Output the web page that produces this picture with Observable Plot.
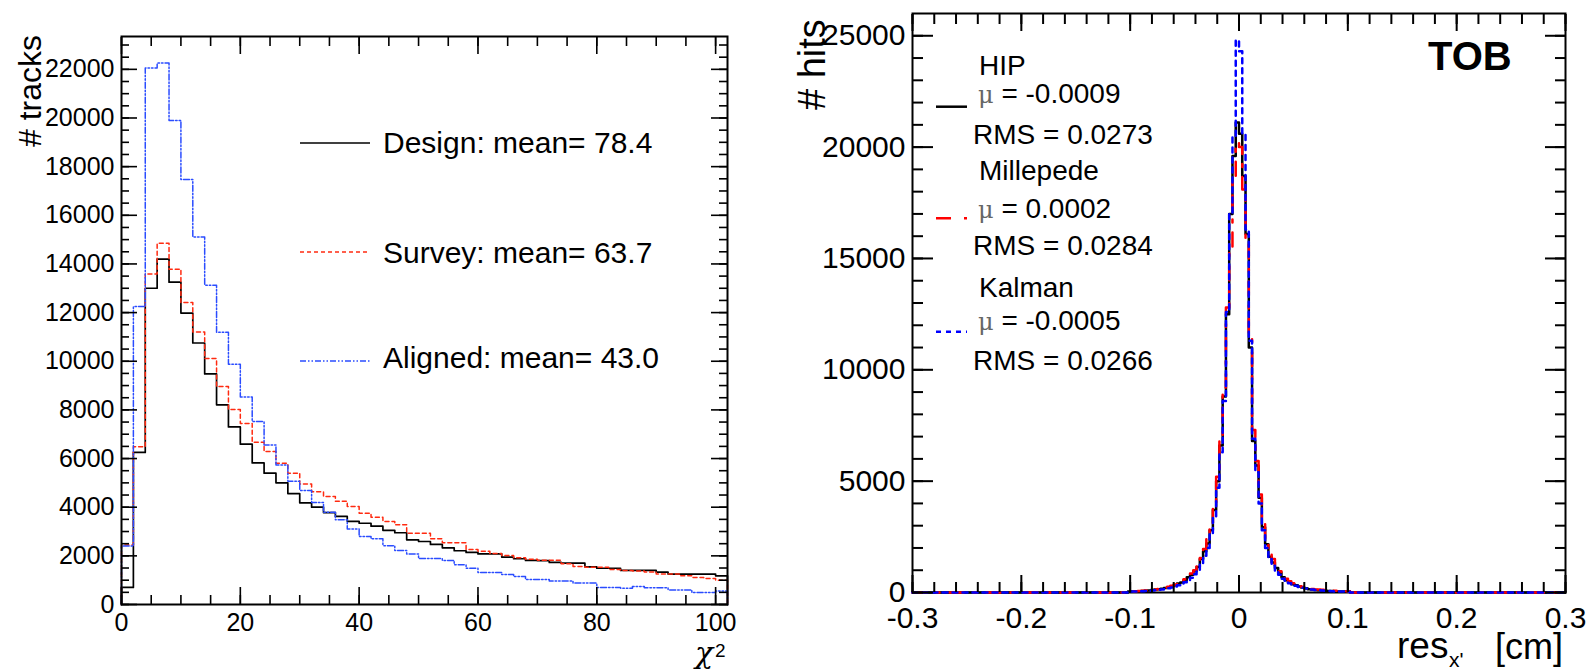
<!DOCTYPE html>
<html><head><meta charset="utf-8">
<script src="https://cdn.jsdelivr.net/npm/d3@7"></script>
<script src="https://cdn.jsdelivr.net/npm/@observablehq/plot@0.6"></script>
<style>
html,body{margin:0;padding:0;background:#fff;}
#root{position:relative;width:1594px;height:672px;overflow:hidden;font-family:"Liberation Sans",Arial,sans-serif;color:#000;background:#fff;}
#root svg{position:absolute;top:0;}
</style></head><body><div id="root"></div>
<script>
// ---------------- Left panel: chi2 distributions ----------------
const chi2Start = 0, chi2Width = 2, chi2Domain = [0, 102];
const designCounts  = [700,6250,13000,14200,13250,11980,10750,9480,8210,7300,6590,5820,5400,5000,4560,4180,4000,3780,3620,3420,3340,3220,3050,2950,2660,2590,2470,2330,2210,2140,2080,2080,1950,1880,1810,1800,1730,1700,1700,1550,1490,1490,1400,1400,1400,1330,1250,1250,1250,1250,1180];
const surveyCounts  = [2450,6490,13590,14850,13780,12410,11200,10110,8960,8015,7440,6670,6290,5810,5400,4950,4630,4440,4245,4030,3750,3590,3410,3275,2930,2930,2700,2540,2540,2260,2190,2100,2010,1920,1860,1820,1820,1680,1560,1530,1530,1440,1400,1380,1340,1250,1250,1180,1110,1070,1000];
const alignedCounts = [2400,12250,22055,22260,19900,17470,15110,13125,11190,9880,8535,7520,6560,5730,5070,4690,4190,3790,3480,3100,2795,2700,2420,2220,2080,1890,1890,1810,1630,1490,1320,1320,1230,1150,1030,1030,970,970,880,880,700,700,670,740,690,690,600,600,490,490,550];
const chi2Legend = ["Design: mean= 78.4", "Survey: mean= 63.7", "Aligned: mean= 43.0"];
const chi2YMax = 23350;
const chi2YTicks = [0,2000,4000,6000,8000,10000,12000,14000,16000,18000,20000,22000];
const chi2XTicks = [0,20,40,60,80,100];

// ---------------- Right panel: TOB residuals ----------------
const resStart = -0.102, resWidth = 0.003, resDomain = [-0.3, 0.3];
const hipCounts = [40,50,50,60,70,80,90,110,130,150,170,200,240,280,330,400,450,550,680,800,950,1150,1500,1850,2200,2800,3700,5000,6600,8800,12500,17000,19600,21100,
  20600,18700,16100,11000,6800,5700,4250,2930,2170,1600,1350,1100,900,680,550,450,370,320,270,230,190,150,130,110,100,90,80,70,70,60,50,50,40,30];
const milleCounts = [50,50,60,70,80,90,100,120,140,160,190,220,260,300,360,420,500,600,700,850,1000,1250,1550,1950,2400,3000,3900,5200,6900,9200,12800,15500,18500,20200,
  20000,18100,15800,11500,7300,5900,4400,3100,2300,2000,1500,1200,950,750,620,500,420,360,300,260,220,190,160,140,130,120,110,100,90,80,80,70,60,60];
const kalmanCounts = [40,40,50,50,60,70,80,90,100,120,140,160,190,230,270,320,380,460,550,660,820,1000,1300,1650,2000,2600,3400,4700,6300,8600,12600,17000,20500,24800,
  24300,20600,16300,11300,6900,5400,4000,2800,2000,1500,1200,980,800,620,500,420,350,300,250,210,180,150,130,110,100,90,80,70,60,50,50,40,40,30];
const resLegend = [["HIP","\u03bc = -0.0009","RMS = 0.0273"],["Millepede","\u03bc = 0.0002","RMS = 0.0284"],["Kalman","\u03bc = -0.0005","RMS = 0.0266"]];
const resYMax = 26000;
const resYTicks = [0,5000,10000,15000,20000,25000];
const resXTicks = [-0.3,-0.2,-0.1,0,0.1,0.2,0.3];

// step outline of a histogram (vertices at bin edges), baseline outside
function stepPoints(start, width, counts, lo, hi) {
  const pts = [{x: lo, y: 0}, {x: start, y: 0}];
  counts.forEach((c, i) => {
    pts.push({x: start + i * width, y: c});
    pts.push({x: start + (i + 1) * width, y: c});
  });
  const end = start + counts.length * width;
  pts.push({x: end, y: 0}, {x: hi, y: 0});
  return pts;
}

const root = document.getElementById("root");
const FONT = "Liberation Sans, Arial, sans-serif";

// ---- left plot ----
const lYMinor = d3.range(0, 23001, 500);
const lXMinor = d3.range(0, 101, 5);
const left = Plot.plot({
  width: 760, height: 672,
  marginLeft: 121, marginRight: 33, marginTop: 36, marginBottom: 68,
  x: {domain: chi2Domain, label: null},
  y: {domain: [0, chi2YMax], label: null},
  style: {fontFamily: FONT, fontSize: "25px", background: "transparent", overflow: "visible", color: "#000"},
  marks: [
    Plot.line(stepPoints(chi2Start, chi2Width, designCounts, chi2Domain[0], chi2Domain[1]), {x: "x", y: "y", stroke: "#000", strokeWidth: 1.7}),
    Plot.line(stepPoints(chi2Start, chi2Width, surveyCounts, chi2Domain[0], chi2Domain[1]), {x: "x", y: "y", stroke: "#ff2a10", strokeWidth: 1.5, strokeDasharray: "4,3"}),
    Plot.line(stepPoints(chi2Start, chi2Width, alignedCounts, chi2Domain[0], chi2Domain[1]), {x: "x", y: "y", stroke: "#2a4cff", strokeWidth: 1.5, strokeDasharray: "6,2,1.5,2,1.5,2"}),
    Plot.frame({stroke: "#000", strokeWidth: 2}),
    Plot.axisY(chi2YTicks, {anchor: "left", tickSize: -16, fill: "none", label: null, strokeWidth: 1.6}),
    Plot.axisY(lYMinor, {anchor: "left", tickSize: -8, fill: "none", label: null, strokeWidth: 1.6}),
    Plot.axisY(chi2YTicks, {anchor: "right", tickSize: -17, fill: "none", label: null, strokeWidth: 1.6}),
    Plot.axisY(lYMinor, {anchor: "right", tickSize: -9, fill: "none", label: null, strokeWidth: 1.6}),
    Plot.axisX(chi2XTicks, {anchor: "bottom", tickSize: -17, fill: "none", label: null, strokeWidth: 1.6}),
    Plot.axisX(lXMinor, {anchor: "bottom", tickSize: -9, fill: "none", label: null, strokeWidth: 1.6}),
    Plot.axisX(chi2XTicks, {anchor: "top", tickSize: -17, fill: "none", label: null, strokeWidth: 1.6}),
    Plot.axisX(lXMinor, {anchor: "top", tickSize: -9, fill: "none", label: null, strokeWidth: 1.6}),
    Plot.axisY(chi2YTicks, {anchor: "left", tickSize: 0, tickPadding: 7, fontSize: 25, label: null, tickFormat: d => String(d)}),
    Plot.axisX(chi2XTicks, {anchor: "bottom", tickSize: 0, tickPadding: 9, fontSize: 25, label: null, tickFormat: d => String(d)})
  ]
});
left.style.left = "0px";
root.appendChild(left);

// ---- right plot ----
const rYMinor = d3.range(0, 25001, 1000);
const rXMinor = d3.range(-15, 16).map(i => i * 0.02);
const right = Plot.plot({
  width: 834, height: 672,
  marginLeft: 152, marginRight: 29, marginTop: 13, marginBottom: 80,
  x: {domain: resDomain, label: null},
  y: {domain: [0, resYMax], label: null},
  style: {fontFamily: FONT, fontSize: "30px", background: "transparent", overflow: "visible", color: "#000"},
  marks: [
    Plot.frame({stroke: "#000", strokeWidth: 2}),
    Plot.line(stepPoints(resStart, resWidth, hipCounts, resDomain[0], resDomain[1]), {x: "x", y: "y", stroke: "#000", strokeWidth: 2.5}),
    Plot.line(stepPoints(resStart, resWidth, milleCounts, resDomain[0], resDomain[1]), {x: "x", y: "y", stroke: "#ff0000", strokeWidth: 2.5, strokeDasharray: "14,10,3,10"}),
    Plot.line(stepPoints(resStart, resWidth, kalmanCounts, resDomain[0], resDomain[1]), {x: "x", y: "y", stroke: "#0000ff", strokeWidth: 2.5, strokeDasharray: "5,5"}),
    Plot.axisY(resYTicks, {anchor: "left", tickSize: -21, fill: "none", label: null, strokeWidth: 2}),
    Plot.axisY(rYMinor, {anchor: "left", tickSize: -11, fill: "none", label: null, strokeWidth: 2}),
    Plot.axisY(resYTicks, {anchor: "right", tickSize: -21, fill: "none", label: null, strokeWidth: 2}),
    Plot.axisY(rYMinor, {anchor: "right", tickSize: -11, fill: "none", label: null, strokeWidth: 2}),
    Plot.axisX(resXTicks, {anchor: "bottom", tickSize: -17, fill: "none", label: null, strokeWidth: 2}),
    Plot.axisX(rXMinor, {anchor: "bottom", tickSize: -10, fill: "none", label: null, strokeWidth: 2}),
    Plot.axisX(resXTicks, {anchor: "top", tickSize: -17, fill: "none", label: null, strokeWidth: 2}),
    Plot.axisX(rXMinor, {anchor: "top", tickSize: -10, fill: "none", label: null, strokeWidth: 2}),
    Plot.axisY(resYTicks, {anchor: "left", tickSize: 0, tickPadding: 7, fontSize: 30, label: null, tickFormat: d => String(d)}),
    Plot.axisX(resXTicks, {anchor: "bottom", tickSize: 0, tickPadding: 14, fontSize: 30, label: null, tickFormat: d => String(d)})
  ]
});
right.style.left = "760px";
root.appendChild(right);

// ---- overlay: titles and legends ----
const ov = d3.select(root).append("svg")
  .attr("width", 1594).attr("height", 672)
  .style("left", "0px").style("pointer-events", "none")
  .style("font-family", FONT);

// left titles
ov.append("text").attr("transform", "translate(41,147) rotate(-90)")
  .attr("font-size", 32).text("# tracks");
ov.append("text").attr("x", 695).attr("y", 663).attr("font-size", 30)
  .attr("font-family", "DejaVu Serif, serif").attr("font-style", "italic").text("\u03c7");
ov.append("text").attr("x", 715).attr("y", 657).attr("font-size", 19).text("2");

// left legend
const lLegY = [143, 252, 361];
const lLegBase = [153, 263, 368];
const lLegStyle = [
  {stroke: "#000", dash: null, w: 1.7},
  {stroke: "#ff2a10", dash: "4,3", w: 1.5},
  {stroke: "#2a4cff", dash: "6,2,1.5,2,1.5,2", w: 1.5}
];
chi2Legend.forEach((t, i) => {
  ov.append("line").attr("x1", 300).attr("x2", 370).attr("y1", lLegY[i]).attr("y2", lLegY[i])
    .attr("stroke", lLegStyle[i].stroke).attr("stroke-width", lLegStyle[i].w)
    .attr("stroke-dasharray", lLegStyle[i].dash);
  ov.append("text").attr("x", 383).attr("y", lLegBase[i]).attr("font-size", 30).text(t);
});

// right titles
ov.append("text").attr("transform", "translate(825,110) rotate(-90)")
  .attr("font-size", 38).text("# hits");
ov.append("text").attr("x", 1428).attr("y", 70).attr("font-size", 40).attr("font-weight", "bold").text("TOB");
ov.append("text").attr("x", 1397).attr("y", 658).attr("font-size", 37).text("res");
ov.append("text").attr("x", 1449).attr("y", 667).attr("font-size", 21).text("x'");
ov.append("text").attr("x", 1563).attr("y", 659).attr("font-size", 36).attr("text-anchor", "end").text("[cm]");

// right legend
const rNameBase = [75, 180, 297];
const rMuBase = [103, 218, 330];
const rRmsBase = [144, 255, 370];
const rLineY = [106.7, 218.3, 331.7];
const rLegStyle = [
  {stroke: "#000", dash: null},
  {stroke: "#ff0000", dash: "15,13,3"},
  {stroke: "#0000ff", dash: "5,5"}
];
resLegend.forEach((e, i) => {
  ov.append("line").attr("x1", 936).attr("x2", 967).attr("y1", rLineY[i]).attr("y2", rLineY[i])
    .attr("stroke", rLegStyle[i].stroke).attr("stroke-width", 2.5)
    .attr("stroke-dasharray", rLegStyle[i].dash);
  ov.append("text").attr("x", 979).attr("y", rNameBase[i]).attr("font-size", 28).text(e[0]);
  const mu = ov.append("text").attr("x", 978).attr("y", rMuBase[i]).attr("font-size", 28);
  mu.append("tspan").attr("fill", "#666").attr("font-family", "DejaVu Serif, serif").attr("font-size", 24).text(e[1].slice(0, 1));
  mu.append("tspan").text(e[1].slice(1));
  ov.append("text").attr("x", 973).attr("y", rRmsBase[i]).attr("font-size", 28).text(e[2]);
});
</script></body></html>
